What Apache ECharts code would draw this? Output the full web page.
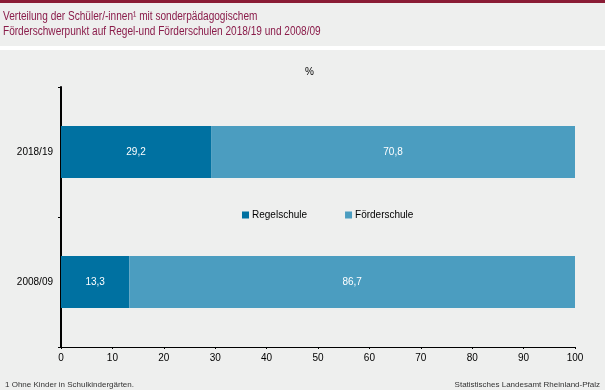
<!DOCTYPE html>
<html><head><meta charset="utf-8">
<script src="https://cdn.jsdelivr.net/npm/echarts@6/dist/echarts.min.js"></script>
<style>html,body{margin:0;padding:0;background:#fff}#c{width:605px;height:390px}</style>
</head><body><div id="c"></div>
<script>
const categories = ['2018/19', '2008/09'];
const regelschule = [29.2, 13.3];
const foerderschule = [70.8, 86.7];
const xTicks = [0, 10, 20, 30, 40, 50, 60, 70, 80, 90, 100];
const seriesNames = ['Regelschule', 'Förderschule'];
const titleLines = ['Verteilung der Schüler/-innen¹ mit sonderpädagogischem', 'Förderschwerpunkt auf Regel-und Förderschulen 2018/19 und 2008/09'];
const footnote = '1 Ohne Kinder in Schulkindergärten.';
const source = 'Statistisches Landesamt Rheinland-Pfalz';

const font = '"Liberation Sans", Arial, sans-serif';
const chart = echarts.init(document.getElementById('c'), null, {renderer: 'canvas'});
const fmt = p => String(p.value).replace('.', ',');
chart.setOption({
  animation: false,
  backgroundColor: '#eeefee',
  textStyle: {fontFamily: font},
  graphic: [
    {type: 'rect', shape: {x: 0, y: 0, width: 605, height: 3}, style: {fill: '#8a1c35'}, z: -1},
    {type: 'rect', shape: {x: 0, y: 46, width: 605, height: 4}, style: {fill: '#ffffff'}, z: -1},
    {type: 'text', x: 3, y: 9, scaleX: 0.84, originX: 0, style: {text: titleLines.join('\n'), fill: '#8a1c4a', font: '12px ' + font, lineHeight: 15}},
    {type: 'text', left: 5, top: 381, style: {text: footnote, fill: '#333', font: '8px ' + font}},
    {type: 'text', right: 5, top: 381, style: {text: source, fill: '#333', font: '8px ' + font, align: 'right'}},
    {type: 'text', left: 305, top: 67, style: {text: '%', fill: '#000', font: '10px ' + font}}
  ],
  legend: {
    left: 237, top: 205, itemWidth: 7, itemHeight: 7, itemGap: 38,
    icon: 'rect',
    textStyle: {fontSize: 10, color: '#000', fontFamily: font, padding: [0, 0, 0, -2]},
    data: seriesNames
  },
  grid: {left: 61, right: 30, top: 87, bottom: 43},
  xAxis: {
    type: 'value', min: 0, max: 100, interval: 10,
    axisLine: {show: true, lineStyle: {color: '#000', width: 1}},
    axisTick: {show: true, length: 2, lineStyle: {color: '#000'}},
    splitLine: {show: false},
    axisLabel: {color: '#000', fontSize: 10, margin: 6, fontFamily: font,
      formatter: v => xTicks.includes(v) ? String(v) : ''}
  },
  yAxis: {
    type: 'category', data: categories, inverse: true,
    axisLine: {show: true, lineStyle: {color: '#000', width: 2}},
    axisTick: {show: true, length: 3, lineStyle: {color: '#000'}},
    axisLabel: {color: '#000', fontSize: 10, margin: 8, fontFamily: font}
  },
  series: [
    {name: seriesNames[0], type: 'bar', stack: 's', data: regelschule, barWidth: '40%',
      itemStyle: {color: '#0071a1'},
      label: {show: true, position: 'inside', color: '#fff', fontSize: 10, fontFamily: font, formatter: fmt}},
    {name: seriesNames[1], type: 'bar', stack: 's', data: foerderschule, barWidth: '40%',
      itemStyle: {color: '#4b9dc0'},
      label: {show: true, position: 'inside', color: '#fff', fontSize: 10, fontFamily: font, formatter: fmt}}
  ]
});
</script></body></html>
